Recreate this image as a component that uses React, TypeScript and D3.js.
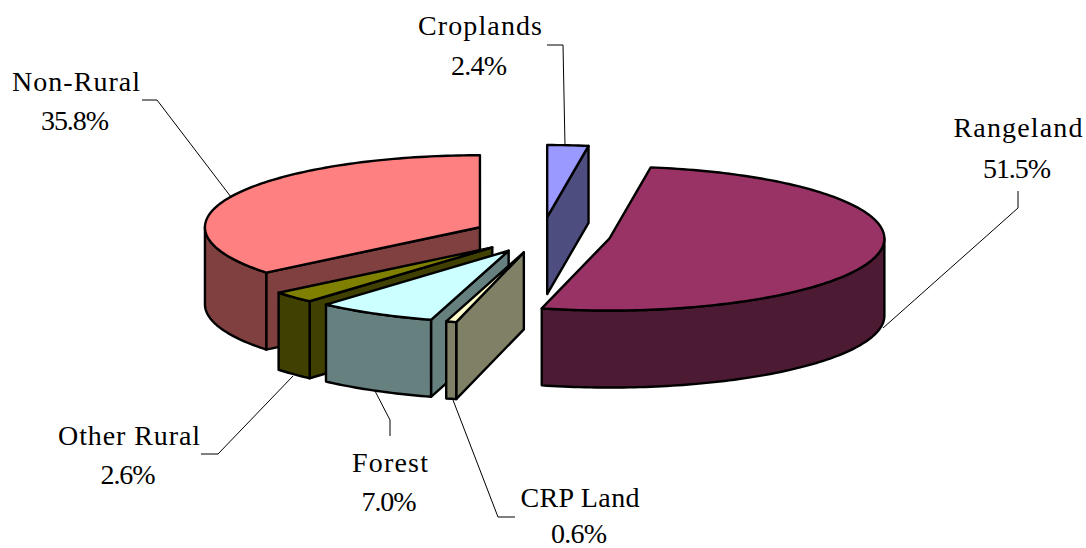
import React from 'react';
import * as d3 from 'd3';

// Land use shares, clockwise from 12 o'clock
const categories = ['Croplands', 'Rangeland', 'CRP Land', 'Forest', 'Other Rural', 'Non-Rural'];
const shares = [2.4, 51.5, 0.6, 7.0, 2.6, 35.8];
const topColors = ['#9999FF', '#993366', '#FFFFCC', '#CCFFFF', '#808000', '#FF8080'];
const sideColors = ['#4D4D80', '#4D1A33', '#808066', '#668080', '#404000', '#804040'];

// back to front
const paintOrder = ['Non-Rural', 'Other Rural', 'Forest', 'CRP Land', 'Croplands', 'Rangeland'];

const labelLayout: Record<string, { x: number; y1: number; y2: number; w1: number; w2: number; leader: [number, number][] }> = {
  Croplands: { x: 480, y1: 35, y2: 75, w1: 124, w2: 56, leader: [[547, 45], [563, 45], [565, 146]] },
  Rangeland: { x: 1018, y1: 137, y2: 178, w1: 129, w2: 68, leader: [[1018, 191], [1018, 208], [883, 328]] },
  'CRP Land': { x: 580, y1: 507, y2: 543, w1: 119, w2: 56, leader: [[515, 517], [498, 517], [453, 400]] },
  Forest: { x: 390, y1: 472, y2: 511, w1: 76, w2: 55, leader: [[390, 436], [390, 420], [375, 391]] },
  'Other Rural': { x: 129, y1: 445, y2: 484, w1: 142, w2: 55, leader: [[201, 454], [218, 454], [293, 376]] },
  'Non-Rural': { x: 76, y1: 91, y2: 130, w1: 128, w2: 68, leader: [[142, 100], [157, 100], [231, 197]] },
};

const width = 1086;
const height = 548;
const cx = 542;
const cy = 235;
const rx = 275;
const ry = 72;
const depth = 77;
const explode = 0.25;

const xScale = d3.scaleLinear().domain([-1, 1]).range([cx - rx, cx + rx]);
const yScale = d3.scaleLinear().domain([-1, 1]).range([cy - ry, cy + ry]);

const pie = d3.pie<number>().sort(null).startAngle(0).endAngle(2 * Math.PI);
const arcs = pie(shares);
const line = d3.line();

// unit-circle point at angle a (0 = top, clockwise) projected to the ellipse
function project(a: number, r: number, ox: number, oy: number, dz = 0): [number, number] {
  return [xScale(Math.sin(a) * r + ox), yScale(-Math.cos(a) * r + oy) + dz];
}

function samples(a0: number, a1: number) {
  const n = Math.max(2, Math.ceil((a1 - a0) / 0.02));
  return d3.range(n + 1).map(i => a0 + ((a1 - a0) * i) / n);
}

function Slice({ i }: { i: number }) {
  const { startAngle: a0, endAngle: a1 } = arcs[i];
  const mid = (a0 + a1) / 2;
  const ox = Math.sin(mid) * explode;
  const oy = -Math.cos(mid) * explode;
  const pt = (a: number, r = 1, dz = 0) => project(a, r, ox, oy, dz);
  const apex = pt(0, 0);
  const apexLow = pt(0, 0, depth);

  const faces: string[] = [];
  // cut face on the start edge
  if (a0 > Math.PI) faces.push(line([apex, pt(a0), pt(a0, 1, depth), apexLow])! + 'Z');
  // cut face on the end edge
  if (a1 < Math.PI) faces.push(line([apex, pt(a1), pt(a1, 1, depth), apexLow])! + 'Z');
  // outer wall, front half of the ellipse only
  const w0 = Math.max(a0, Math.PI / 2);
  const w1 = Math.min(a1, (3 * Math.PI) / 2);
  if (w1 > w0) {
    const upper = samples(w0, w1).map(a => pt(a));
    const lower = samples(w0, w1).reverse().map(a => pt(a, 1, depth));
    faces.push(line([...upper, ...lower])! + 'Z');
  }
  const top = line([apex, ...samples(a0, a1).map(a => pt(a))])! + 'Z';

  return (
    <g stroke="#000" strokeWidth={2.4} strokeLinejoin="round">
      {faces.map((d, k) => (
        <path key={k} d={d} fill={sideColors[i]} />
      ))}
      <path d={top} fill={topColors[i]} />
    </g>
  );
}

export default function App() {
  return (
    <svg
      width={width}
      height={height}
      viewBox={`0 0 ${width} ${height}`}
      style={{ position: 'absolute', left: 0, top: 0, background: '#fff' }}
    >
      {paintOrder.map(name => (
        <Slice key={name} i={categories.indexOf(name)} />
      ))}
      {categories.map((name, i) => {
        const l = labelLayout[name];
        return (
          <g key={name} fontFamily="'Liberation Serif', serif" fontSize={28} fill="#000" textAnchor="middle">
            <path d={line(l.leader)!} fill="none" stroke="#000" strokeWidth={1} />
            <text x={l.x} y={l.y1} textLength={l.w1} lengthAdjust="spacing">{name}</text>
            <text x={l.x - 1} y={l.y2} textLength={l.w2} lengthAdjust="spacing">{shares[i].toFixed(1)}%</text>
          </g>
        );
      })}
    </svg>
  );
}
